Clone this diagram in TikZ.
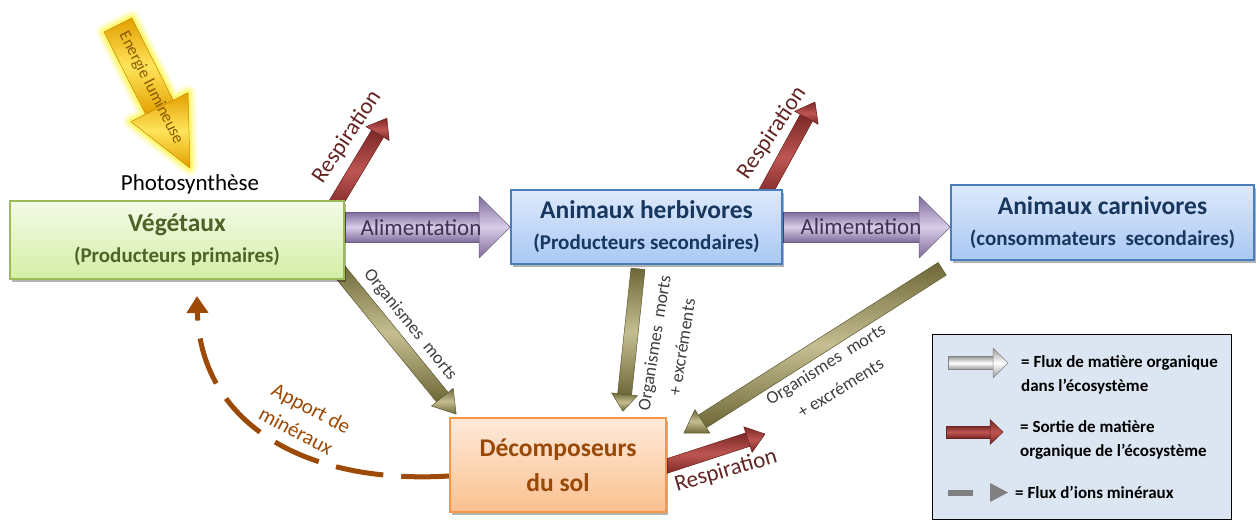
\documentclass[tikz,border=0pt]{standalone}
\usepackage{fontspec}
\setmainfont{Carlito}
\usetikzlibrary{calc,shadows,arrows.meta}
\pgfdeclarelayer{bg}
\pgfsetlayers{bg,main}

\definecolor{vegborder}{HTML}{9BBB59}
\definecolor{vegtop}{HTML}{F4FBE8}
\definecolor{vegbot}{HTML}{D4EEA6}
\definecolor{vegtext}{HTML}{4F6228}
\definecolor{blueborder}{HTML}{4A7EBB}
\definecolor{bluetop}{HTML}{DDE9FB}
\definecolor{bluebot}{HTML}{A9C8F4}
\definecolor{bluetext}{HTML}{17375E}
\definecolor{orborder}{HTML}{F79646}
\definecolor{ortop}{HTML}{FEEADB}
\definecolor{orbot}{HTML}{FBC08F}
\definecolor{ortext}{HTML}{984807}
\definecolor{purdark}{HTML}{7F6B9A}
\definecolor{purlight}{HTML}{D8CDE8}
\definecolor{purtext}{HTML}{3F3151}
\definecolor{reddark}{HTML}{7A2826}
\definecolor{redlight}{HTML}{BD5552}
\definecolor{redtext}{HTML}{632523}
\definecolor{olidark}{HTML}{6E6838}
\definecolor{olilight}{HTML}{C4BE92}
\definecolor{olitext}{HTML}{3F3F3F}
\definecolor{mincol}{HTML}{9C4A06}
\definecolor{yeldark}{HTML}{E3A000}
\definecolor{yellight}{HTML}{FFE45A}
\definecolor{yelglow}{HTML}{FFF200}
\definecolor{yeltext}{HTML}{8C5A00}
\definecolor{legfill}{HTML}{DCE6F2}
\definecolor{graydark}{HTML}{9A9A9A}
\definecolor{graylight}{HTML}{FFFFFF}
\definecolor{minigray}{HTML}{808080}

\newcommand\boxtitle{\fontsize{25.5}{30}\selectfont}

\newcommand\getseg[2]{%
  \path let \p1=(#1), \p2=(#2) in \pgfextra{\xdef\bax{\x1}\xdef\bay{\y1}\xdef\bbx{\x2}\xdef\bby{\y2}};%
  \pgfmathsetmacro\bang{atan2(\bby-\bay,\bbx-\bax)}%
  \pgfmathsetmacro\blen{veclen(\bbx-\bax,\bby-\bay)}}

% #1 from, #2 to, #3 shaft width, #4 head width, #5 head length, #6 dark, #7 light
\newcommand\blockarr[7]{%
  \getseg{#1}{#2}%
  \begin{scope}[shift={(\bax,\bay)}, rotate=\bang]
    \shade[top color=#6, bottom color=#6, middle color=#7, draw=#6!85!black, line width=0.5pt]
      (0pt,-#3/2) rectangle (\blen pt-#5+0.5pt, #3/2);
    \shade[top color=#6, bottom color=#6, middle color=#7, draw=#6!85!black, line width=0.5pt, line join=round]
      (\blen pt-#5,-#4/2) -- (\blen pt,0pt) -- (\blen pt-#5,#4/2) -- cycle;
  \end{scope}}

\begin{document}
\begin{tikzpicture}[x=1pt,y=-1pt,
  box/.style={draw, line width=1.6pt, inner sep=0pt, align=center,
    font=\fontsize{21}{31}\selectfont\bfseries,
    drop shadow={shadow xshift=2pt, shadow yshift=-3pt, opacity=0.3, fill=black}},
  vegbox/.style={box, draw=vegborder, top color=vegtop, bottom color=vegbot, text=vegtext},
  bluebox/.style={box, draw=blueborder, top color=bluetop, bottom color=bluebot, text=bluetext},
  orbox/.style={box, draw=orborder, top color=ortop, bottom color=orbot, text=ortext,
    font=\fontsize{25.5}{35}\selectfont\bfseries},
  lbl/.style={font=\fontsize{23}{27}\selectfont, inner sep=0pt},
  omlbl/.style={font=\fontsize{18}{28}\selectfont, inner sep=0pt, text=olitext, align=center},
  legtext/.style={font=\fontsize{17}{24}\selectfont\bfseries, inner sep=0pt, align=left, anchor=west}]
\useasboundingbox (0,0) rectangle (1260,532);

% ---- nodes
\node[vegbox, minimum width=334pt, minimum height=78pt] (veg) at (177,240)
  {{\boxtitle Végétaux}\\(Producteurs primaires)};
\node[bluebox, minimum width=271pt, minimum height=74pt] (herb) at (646.5,227)
  {{\boxtitle Animaux herbivores}\\(Producteurs secondaires)};
\node[bluebox, minimum width=303pt, minimum height=75pt] (carn) at (1102.5,222.5)
  {{\boxtitle Animaux carnivores}\\(consommateurs\ \ secondaires)};
\node[orbox, minimum width=216pt, minimum height=94pt] (dec) at (558,465)
  {Décomposeurs\\du sol};
\node[draw=black, line width=1pt, fill=legfill, minimum width=299pt, minimum height=185pt, inner sep=0pt] (leg) at (1081.5,426.5) {};

\node[lbl] (photo) at (190,184) {Photosynthèse};

% ---- free end coordinates
\coordinate (e0) at (118,25);
\coordinate (e1) at (190,168);
\coordinate (r1tip) at (387,118);
\coordinate (r2tip) at (815,102);
\coordinate (r3tip) at (765,434);
\coordinate (apt) at (197,296);
\coordinate (lg1a) at (948,363);
\coordinate (lg1b) at (1008,363);
\coordinate (lg2a) at (946,432);
\coordinate (lg2b) at (1003,432);
\coordinate (lg3a) at (948,493);
\coordinate (lg3b) at (973,493);
\coordinate (lg3c) at (990,483);
\coordinate (lg3d) at (1008,492.5);
\coordinate (lg3e) at (990,502);

% ---- connectors on background layer
\begin{pgfonlayer}{bg}
  % energy arrow with glow
  \getseg{e0}{e1}
  \begin{scope}[shift={(\bax,\bay)}, rotate=\bang]
    \foreach \w/\o in {16/0.12, 11/0.2, 6/0.35}{
      \draw[yelglow, line width=\w pt, opacity=\o, line join=round]
        (0pt,-15.5pt) -- (\blen pt-68pt,-15.5pt) -- (\blen pt-68pt,-32pt) -- (\blen pt,0pt)
        -- (\blen pt-68pt,32pt) -- (\blen pt-68pt,15.5pt) -- (0pt,15.5pt) -- cycle;}
    \shade[top color=yeldark, bottom color=yeldark, middle color=yellight, draw=yeldark!85!black, line width=0.5pt]
      (0pt,-15.5pt) rectangle (\blen pt-67.5pt, 15.5pt);
    \shade[top color=yeldark, bottom color=yeldark, middle color=yellight, draw=yeldark!85!black, line width=0.5pt, line join=round]
      (\blen pt-68pt,-32pt) -- (\blen pt,0pt) -- (\blen pt-68pt,32pt) -- cycle;
  \end{scope}

  % alimentation
  \blockarr{veg.east |- herb.west}{herb.west}{30pt}{62pt}{31pt}{purdark}{purlight}
  \blockarr{herb.east}{carn.west |- herb.east}{30pt}{62pt}{31pt}{purdark}{purlight}
  % respiration
  \blockarr{$(veg.north east)+(-12,8)$}{r1tip}{14pt}{27pt}{18pt}{reddark}{redlight}
  \blockarr{$(herb.north east)+(-20,8)$}{r2tip}{14pt}{27pt}{18pt}{reddark}{redlight}
  \blockarr{$(dec.east)+(-6,3)$}{r3tip}{14pt}{27pt}{18pt}{reddark}{redlight}
  % organismes morts
  \blockarr{$(veg.south east)+(-8,-12)$}{$(dec.north west)+(7,-3)$}{15pt}{28pt}{22pt}{olidark}{olilight}
  \blockarr{$(herb.south)+(-8.5,4)$}{$(dec.north east)+(-44,-6)$}{14pt}{26pt}{17pt}{olidark}{olilight}
  \blockarr{$(carn.south west)+(-8,8)$}{$(dec.north east)+(17,16)$}{15pt}{28pt}{22pt}{olidark}{olilight}
  % apport de mineraux
  \draw[mincol, line width=5pt, dash pattern=on 48pt off 18pt,
        -{Triangle[length=17pt,width=21pt]}]
    ($(dec.west)+(0,11)$) .. controls (300,485) and (200,420) .. (apt);
\end{pgfonlayer}

% ---- legend samples
\blockarr{lg1a}{lg1b}{13pt}{30pt}{15pt}{graydark}{graylight}
\blockarr{lg2a}{lg2b}{12pt}{25pt}{13pt}{reddark}{redlight}
\draw[minigray, line width=6pt] (lg3a) -- (lg3b);
\fill[minigray] (lg3c) -- (lg3d) -- (lg3e) -- cycle;

% ---- labels
\node[font=\fontsize{16.5}{19}\selectfont, text=yeltext, rotate=-63, inner sep=0pt] at (151,88) {Energie lumineuse};
\node[lbl, text=purtext] at (421,228) {Alimentation};
\node[lbl, text=purtext] at (861,227) {Alimentation};
\node[lbl, text=redtext, rotate=56] at (347,137) {Respiration};
\node[lbl, text=redtext, rotate=56] at (772,133) {Respiration};
\node[lbl, text=redtext, rotate=16] at (726,471) {Respiration};
\node[omlbl, rotate=-51] at (410,325) {Organismes\ \ morts};
\node[omlbl, rotate=81] at (668,345) {Organismes\ \ morts\\+ excréments};
\node[omlbl, rotate=32] at (833,376) {Organismes\ \ morts\\+ excréments};
\node[font=\fontsize{21}{27}\selectfont, text=mincol, rotate=-28, align=left, inner sep=0pt] at (305,420) {Apport de\\minéraux};

\node[legtext] at (1021,375) {= Flux de matière organique\\dans l’écosystème};
\node[legtext] at (1020,440) {= Sortie de matière\\organique de l’écosystème};
\node[legtext] at (1015,492) {= Flux d’ions minéraux};
\end{tikzpicture}
\end{document}
